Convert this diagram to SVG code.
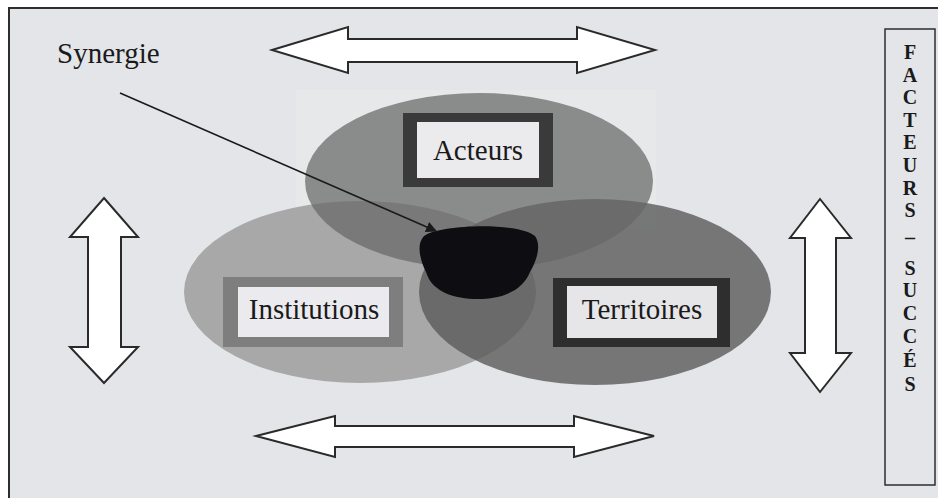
<svg xmlns="http://www.w3.org/2000/svg" width="938" height="498" viewBox="0 0 938 498">
<defs>
<style>
.lbl{font-family:"Liberation Serif","Times New Roman",serif;font-size:29px;fill:#1a1a1a;text-anchor:middle}
.vt{font-family:"Liberation Serif","Times New Roman",serif;font-size:20px;font-weight:bold;fill:#1a1a1a;text-anchor:middle}
.arr{fill:#ffffff;stroke:#2a2a2a;stroke-width:2;stroke-linejoin:miter}
</style>
<marker id="ah" viewBox="0 0 10 10" refX="9" refY="5" markerWidth="11" markerHeight="11" markerUnits="userSpaceOnUse" orient="auto">
<path d="M0,0 L10,5 L0,10 z" fill="#1a1a1a"/>
</marker>
</defs>
<rect x="0" y="0" width="938" height="498" fill="#ffffff"/>
<rect x="9" y="8" width="940" height="500" fill="#e3e5e9" stroke="#2e2e2e" stroke-width="2"/>
<rect x="296" y="90" width="360" height="140" fill="#e7e8ea"/>

<g id="institutions">
<ellipse cx="360" cy="292" rx="176" ry="91" fill="#a8a8a8"/>
</g>
<g id="territoires">
<ellipse cx="595" cy="292" rx="176" ry="93" fill="#5a5a5a" fill-opacity="0.8"/>
</g>
<g id="acteurs">
<ellipse cx="479" cy="181" rx="174" ry="88" fill="#666666" fill-opacity="0.72"/>
<rect x="403" y="113" width="150" height="74" fill="#3a3a3a"/>
<rect x="417" y="122" width="122" height="56" fill="#ebebed"/>
<text class="lbl" x="478" y="160">Acteurs</text>
</g>
<g id="institutions-label">
<rect x="223" y="277" width="180" height="70" fill="#7e7e7e"/>
<rect x="238" y="287" width="151" height="50" fill="#ebebef"/>
<text class="lbl" x="314" y="319">Institutions</text>
</g>
<g id="territoires-label">
<rect x="553" y="278" width="177" height="69" fill="#2e2e2e"/>
<rect x="567" y="286" width="150" height="52" fill="#e6e6e8"/>
<text class="lbl" x="642" y="319">Territoires</text>
</g>
<g id="synergie-core">
<path d="M424,236 C440,224 520,222 535,236 C542,246 536,262 530,272 C522,292 500,299 478,299 C454,299 432,292 426,272 C420,260 416,244 424,236 z" fill="#0e0e12"/>
</g>
<g id="synergie">
<text x="57" y="63" font-family="'Liberation Serif','Times New Roman',serif" font-size="29" fill="#1a1a1a">Synergie</text>
</g>
<g id="facteurs">
<rect x="885" y="29" width="50" height="456" fill="#e3e5e9" stroke="#2e2e2e" stroke-width="1.5"/>
<text class="vt" x="910" y="59">F</text>
<text class="vt" x="910" y="82">A</text>
<text class="vt" x="910" y="104">C</text>
<text class="vt" x="910" y="127">T</text>
<text class="vt" x="910" y="149">E</text>
<text class="vt" x="910" y="172">U</text>
<text class="vt" x="910" y="195">R</text>
<text class="vt" x="910" y="217">S</text>
<text class="vt" x="910" y="244">–</text>
<text class="vt" x="910" y="275">S</text>
<text class="vt" x="910" y="297">U</text>
<text class="vt" x="910" y="320">C</text>
<text class="vt" x="910" y="343">C</text>
<text class="vt" x="910" y="367">É</text>
<text class="vt" x="910" y="391">S</text>
</g>
<g id="connectors">
<line x1="120" y1="93" x2="436" y2="231" stroke="#1a1a1a" stroke-width="1.6" marker-end="url(#ah)"/>
<path class="arr" d="M272,50 L348,27 L348,39 L577,39 L577,27 L655,50 L577,73 L577,62 L348,62 L348,73 z"/>
<path class="arr" d="M256,436 L335,416 L335,426 L574,426 L574,416 L654,436 L574,457 L574,447 L335,447 L335,457 z"/>
<path class="arr" d="M104,198 L138,237 L121,237 L121,347 L138,347 L104,383 L70,347 L88,347 L88,237 L70,237 z"/>
<path class="arr" d="M820,199 L851,238 L836,238 L836,353 L851,353 L820,392 L790,353 L805,353 L805,238 L790,238 z"/>
</g>
</svg>
